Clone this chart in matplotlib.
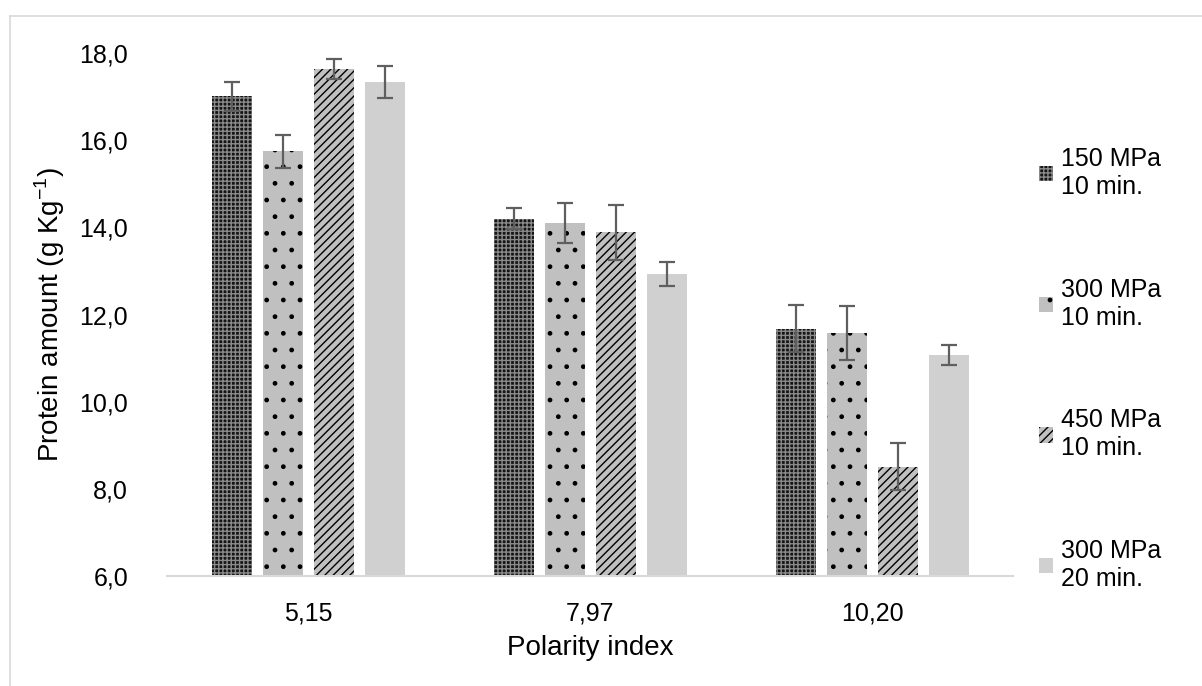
import matplotlib.pyplot as plt
import numpy as np
from matplotlib.lines import Line2D

plt.rcParams['font.family'] = ['Liberation Sans', 'DejaVu Sans']
plt.rcParams['hatch.linewidth'] = 1.0

# Data
categories = ['5,15', '7,97', '10,20']
series = ['150 MPa\n10 min.', '300 MPa\n10 min.', '450 MPa\n10 min.', '300 MPa\n20 min.']
values = [
    [17.00, 14.20, 11.67],
    [15.74, 14.10, 11.58],
    [17.63, 13.89, 8.51],
    [17.33, 12.93, 11.07],
]
errors = [
    [0.33, 0.24, 0.54],
    [0.37, 0.46, 0.62],
    [0.23, 0.63, 0.54],
    [0.36, 0.28, 0.23],
]

styles = [
    dict(facecolor='#151515', edgecolor='#8a8a8a', hatch='++++'),
    dict(facecolor='#c0c0c0', edgecolor='black', hatch='.'),
    dict(facecolor='#c0c0c0', edgecolor='black', hatch='////'),
    dict(facecolor='#d0d0d0', edgecolor='#d0d0d0', hatch=None),
]

fs = 18
title_fs = 20

fig = plt.figure(figsize=(12.02, 6.86), dpi=100)
ax = fig.add_axes([0.139, 0.160, 0.704, 0.763])

x = np.arange(len(categories))
step = 0.181
width = 0.142

handles = []
for i, (vals, errs, st) in enumerate(zip(values, errors, styles)):
    pos = x + (i - 1.5) * step
    b = ax.bar(pos, np.array(vals) - 6, width, bottom=6, linewidth=0, label=series[i], **st)
    ax.errorbar(pos, vals, yerr=errs, fmt='none', ecolor='#5f5f5f',
                elinewidth=1.6, capsize=6, capthick=1.6)
    handles.append(b)

ax.set_xlim(-0.5, 2.5)
ax.set_ylim(6, 18)
ax.set_yticks(np.arange(6, 18.1, 2))
ax.set_yticklabels([f'{v:.1f}'.replace('.', ',') for v in np.arange(6, 18.1, 2)])
ax.set_xticks(x)
ax.set_xticklabels(categories)
ax.tick_params(length=0, labelsize=fs, colors='#000000')
ax.tick_params(axis='x', pad=18)
ax.tick_params(axis='y', pad=28)

for s in ['top', 'right', 'left']:
    ax.spines[s].set_visible(False)
ax.spines['bottom'].set_color('#d9d9d9')
ax.spines['bottom'].set_linewidth(1.5)

ax.set_xlabel('Polarity index', fontsize=title_fs, labelpad=7)
ax.set_ylabel('Protein amount (g Kg$^{\\mathregular{-1}}$)', fontsize=title_fs, labelpad=9)

fig.legend(handles=handles, labels=series, loc='upper left',
           bbox_to_anchor=(0.846, 0.818), frameon=False, fontsize=fs,
           handlelength=0.55, handleheight=0.55, handletextpad=0.3,
           labelspacing=3.15)

# light outer border
fig.add_artist(Line2D([0.008, 1.0], [0.977, 0.977], transform=fig.transFigure,
                      color='#d9d9d9', linewidth=1.2))
fig.add_artist(Line2D([0.008, 0.008], [0.0, 0.977], transform=fig.transFigure,
                      color='#d9d9d9', linewidth=1.2))

fig.savefig('out.png', dpi=100)
